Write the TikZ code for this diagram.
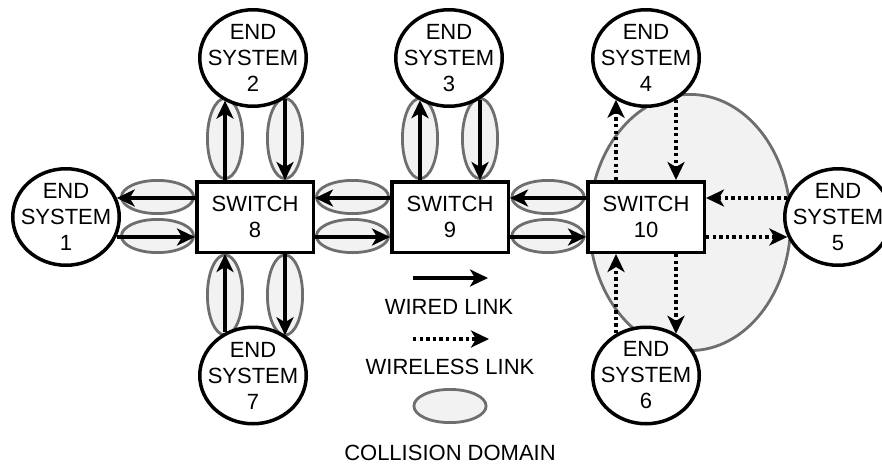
\documentclass[tikz,border=0pt]{standalone}
\usepackage{fontspec}
\setmainfont{Liberation Sans}
\usetikzlibrary{shapes.geometric,arrows.meta,calc}
\definecolor{cdfill}{HTML}{F2F2F2}
\definecolor{cdline}{HTML}{6E6E6E}
\begin{document}
\begin{tikzpicture}[x=1pt,y=-1pt,
 txt/.style={font=\fontsize{22}{26}\selectfont, align=center, inner sep=0pt},
 es/.style={ellipse, draw, line width=3.5pt, fill=white, minimum width=106.5pt, minimum height=96.5pt, inner sep=0pt, label={[txt]center:#1}},
 sw/.style={rectangle, draw, line width=3.5pt, fill=white, minimum width=116.5pt, minimum height=70.5pt, inner sep=0pt, txt},
 cd/.style={ellipse, draw=cdline, fill=cdfill, line width=2.8pt, inner sep=0pt},
 cdh/.style={cd, minimum width=72.2pt, minimum height=33.2pt},
 cdv/.style={cd, minimum width=35.2pt, minimum height=80.2pt},
 wired/.style={line width=3.3pt, -{Stealth[length=18pt,width=17pt,inset=5pt]}},
 wireless/.style={wired, dash pattern=on 3.3pt off 3.3pt},
]
\clip (0,0) rectangle (882,466);
\fill[white] (0,0) rectangle (882,466);

% big collision domain
\node[cd, minimum width=201.2pt, minimum height=256.2pt] (cdbig) at (690,222.5) {};

% small collision domains
\node[cdh] (h1a) at (157.5,197) {};
\node[cdh] (h1b) at (157.5,236) {};
\node[cdh] (h2a) at (352.5,197) {};
\node[cdh] (h2b) at (352.5,236) {};
\node[cdh] (h3a) at (548,197) {};
\node[cdh] (h3b) at (548,236) {};
\node[cdv] (v1a) at (225,138.5) {};
\node[cdv] (v1b) at (285,138.5) {};
\node[cdv] (v2a) at (420,138.5) {};
\node[cdv] (v2b) at (480,138.5) {};
\node[cdv] (v3a) at (225,295) {};
\node[cdv] (v3b) at (285,295) {};

% switches
\node[sw] (s8) at (255,217) {SWITCH\\8};
\node[sw] (s9) at (450,217) {SWITCH\\9};
\node[sw] (s10) at (646,217) {SWITCH\\10};

% end systems
\node[es={END\\SYSTEM\\1}] (es1) at (66,217) {};
\node[es={END\\SYSTEM\\2}] (es2) at (253,58) {};
\node[es={END\\SYSTEM\\3}] (es3) at (449,58) {};
\node[es={END\\SYSTEM\\4}] (es4) at (646,58) {};
\node[es={END\\SYSTEM\\5}] (es5) at (838,217) {};
\node[es={END\\SYSTEM\\6}] (es6) at (646,375.5) {};
\node[es={END\\SYSTEM\\7}] (es7) at (253,375.5) {};

% wired links
\draw[wired] ([yshift=19pt]s8.west) -- ([yshift=19pt]s8.west -| es1.21);
\draw[wired] ([yshift=-20pt]s8.west -| es1.-21.5) -- ([yshift=-20pt]s8.west);
\draw[wired] ([yshift=19pt]s9.west) -- ([yshift=19pt]s8.east);
\draw[wired] ([yshift=-20pt]s8.east) -- ([yshift=-20pt]s9.west);
\draw[wired] ([yshift=19pt]s10.west) -- ([yshift=19pt]s9.east);
\draw[wired] ([yshift=-20pt]s9.east) -- ([yshift=-20pt]s10.west);

\draw[wired] ([xshift=-30pt]s8.north) -- ([xshift=-30pt]s8.north |- es2.236.95);
\draw[wired] ([xshift=30pt]s8.north |- es2.308.2) -- ([xshift=30pt]s8.north);
\draw[wired] ([xshift=-30pt]s8.south |- es7.123.05) -- ([xshift=-30pt]s8.south);
\draw[wired] ([xshift=30pt]s8.south) -- ([xshift=30pt]s8.south |- es7.51.8);
\draw[wired] ([xshift=-30pt]s9.north) -- ([xshift=-30pt]s9.north |- es3.235.7);
\draw[wired] ([xshift=30pt]s9.north |- es3.306.9) -- ([xshift=30pt]s9.north);

% wireless links
\draw[wireless] ([xshift=-30pt]s10.north) -- ([xshift=-30pt]s10.north |- es4.234.4);
\draw[wireless] ([xshift=30pt]s10.north |- es4.305.6) -- ([xshift=30pt]s10.north);
\draw[wireless] ([xshift=-30pt]s10.south |- es6.125.6) -- ([xshift=-30pt]s10.south);
\draw[wireless] ([xshift=30pt]s10.south) -- ([xshift=30pt]s10.south |- es6.54.4);
\draw[wireless] ([yshift=19pt]s10.east -| es5.159) -- ([yshift=19pt]s10.east);
\draw[wireless] ([yshift=-20pt]s10.east) -- ([yshift=-20pt]s10.east -| es5.201.5);

% legend
\coordinate (lwa) at (413,278);
\coordinate (lwb) at (488,278);
\draw[wired] (lwa) -- (lwb);
\node[txt] (lwt) at (449,307) {WIRED LINK};
\coordinate (lla) at (413,339);
\coordinate (llb) at (489,339);
\draw[wireless] (lla) -- (llb);
\node[txt] (llt) at (450,367) {WIRELESS LINK};
\node[cdh] (lcd) at (450,406) {};
\node[txt] (lct) at (450,453) {COLLISION DOMAIN};
\end{tikzpicture}
\end{document}
